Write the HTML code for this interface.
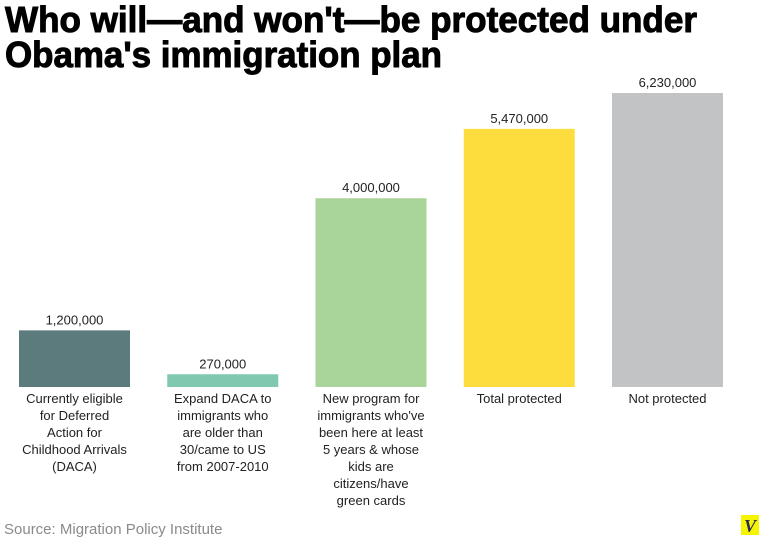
<!DOCTYPE html>
<html><head><meta charset="utf-8"><style>
html,body{margin:0;padding:0;background:#fff;width:759px;height:538px;overflow:hidden}
svg{display:block;font-family:"Liberation Sans",sans-serif}
</style></head><body>
<svg id="chart" width="759" height="538">
<text x="5" y="32" font-size="36" font-weight="bold" stroke="#000" stroke-width="1" textLength="692" lengthAdjust="spacingAndGlyphs">Who will—and won't—be protected under</text>
<text x="5" y="67" font-size="36" font-weight="bold" stroke="#000" stroke-width="1" textLength="437" lengthAdjust="spacingAndGlyphs">Obama's immigration plan</text>
<g id="bars"></g>
<text x="4" y="534" font-size="15" fill="#8a8a8a">Source: Migration Policy Institute</text>
<rect x="741" y="515" width="18" height="20" fill="#f5f500"/>
<text x="750" y="532" font-size="18" font-style="italic" font-weight="bold" font-family="Liberation Serif,serif" fill="#2a2a5a" text-anchor="middle">V</text>
</svg>
<script>
const categories=[
["Currently eligible","for Deferred","Action for","Childhood Arrivals","(DACA)"],
["Expand DACA to","immigrants who","are older than","30/came to US","from 2007-2010"],
["New program for","immigrants who've","been here at least","5 years & whose","kids are","citizens/have","green cards"],
["Total protected"],
["Not protected"]];
const values=[1200000,270000,4000000,5470000,6230000];
const valueLabels=["1,200,000","270,000","4,000,000","5,470,000","6,230,000"];
const colors=["#5b7b7d","#80c9b0","#a9d59a","#fddd3e","#c2c3c5"];
const base=387, maxV=6230000, maxH=294;
const y=v=>base-v/maxV*maxH;
const x=i=>19+i*148.25;
const bw=111;
const g=document.getElementById('bars');
const NS="http://www.w3.org/2000/svg";
values.forEach((v,i)=>{
 const r=document.createElementNS(NS,'rect');
 r.setAttribute('x',x(i));r.setAttribute('y',y(v));r.setAttribute('width',bw);r.setAttribute('height',base-y(v));r.setAttribute('fill',colors[i]);
 
 
 g.appendChild(r);
 const t=document.createElementNS(NS,'text');
 t.setAttribute('x',x(i)+bw/2);t.setAttribute('y',y(v)-6);t.setAttribute('font-size','13');t.setAttribute('text-anchor','middle');t.setAttribute('fill','#222');
 t.textContent=valueLabels[i];
 
 
 g.appendChild(t);
 categories[i].forEach((line,j)=>{
  const c=document.createElementNS(NS,'text');
  c.setAttribute('x',x(i)+bw/2);c.setAttribute('y',403+j*17);c.setAttribute('font-size','13');c.setAttribute('text-anchor','middle');c.setAttribute('fill','#222');
  c.textContent=line;
  
  
  g.appendChild(c);
 });
});
</script>
</body></html>
